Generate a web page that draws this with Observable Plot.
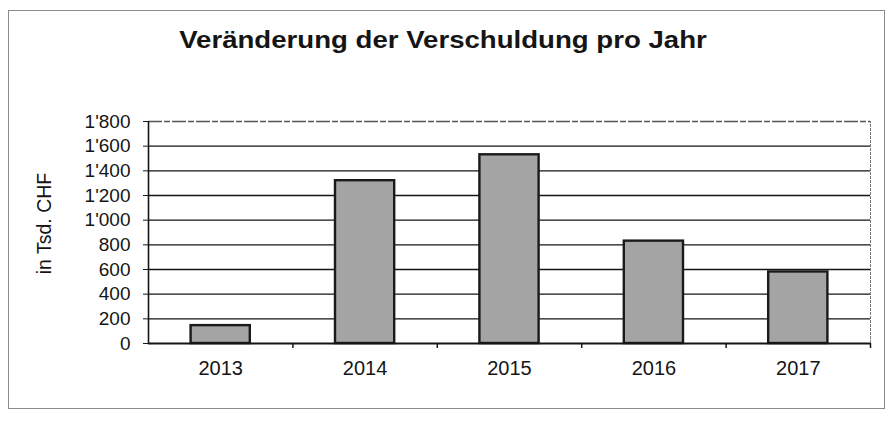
<!DOCTYPE html>
<html><head><meta charset="utf-8">
<script src="https://cdn.jsdelivr.net/npm/d3@7"></script>
<script src="https://cdn.jsdelivr.net/npm/@observablehq/plot@0.6"></script>
<style>
html,body{margin:0;padding:0;background:#fff;}
#wrap{position:relative;width:890px;height:428px;overflow:hidden;font-family:"Liberation Sans",Arial,sans-serif;}
#frame{position:absolute;left:8px;top:10px;width:877px;height:399px;border:1.5px solid #8a8a8a;box-sizing:border-box;}
#title{position:absolute;left:0;top:27px;width:890px;text-align:center;font-weight:bold;font-size:23px;color:#151515;transform:translateX(-2px) scaleX(1.2);transform-origin:445px 0;}
#chart{position:absolute;left:0;top:0;}
</style></head>
<body><div id="wrap"><div id="frame"></div><div id="title">Veränderung der Verschuldung pro Jahr</div><div id="chart"></div></div>
<script>
const years = [2013, 2014, 2015, 2016, 2017];
const values = [145, 1320, 1530, 830, 580];
const yTicks = [0, 200, 400, 600, 800, 1000, 1200, 1400, 1600, 1800];
const yLabel = "in Tsd. CHF";

const data = years.map((y, i) => ({year: y, value: values[i]}));
const boundaries = years.map(y => y + 0.5);
const fmt = d3.formatLocale({decimal: ".", thousands: "'", grouping: [3], currency: ["", ""]}).format(",");

const chart = Plot.plot({
  width: 890,
  height: 428,
  marginLeft: 148,
  marginRight: 20,
  marginTop: 121,
  marginBottom: 85,
  style: {fontFamily: "Liberation Sans, Arial, sans-serif", fontSize: "19px", color: "#151515", background: "transparent"},
  x: {type: "linear", domain: [years[0] - 0.5, years[years.length - 1] + 0.5]},
  y: {type: "linear", domain: [0, 1800]},
  marks: [
    Plot.ruleY(yTicks.filter(t => t > 0 && t < 1800), {stroke: "#151515", strokeWidth: 1.3}),
    Plot.ruleY([1800], {stroke: "#555", strokeWidth: 1.3, strokeDasharray: "14 2 6 2"}),
    Plot.ruleX([years[years.length - 1] + 0.5], {y1: 0, y2: 1800, stroke: "#777", strokeWidth: 1, strokeDasharray: "3 1"}),
    Plot.rectY(data, {x1: d => d.year - 0.205, x2: d => d.year + 0.205, y: "value", fill: "#a4a4a4", stroke: "#1a1a1a", strokeWidth: 2.4}),
    Plot.ruleY([0], {stroke: "#151515", strokeWidth: 2}),
    Plot.ruleX([years[0] - 0.5], {y1: 0, y2: 1800, stroke: "#151515", strokeWidth: 1.6}),
    Plot.axisX({ticks: boundaries, tickFormat: () => "", tickSize: 5, strokeWidth: 1.5, label: null}),
    Plot.axisY({ticks: yTicks, tickFormat: fmt, tickSize: 5, tickPadding: 13, label: null, fontSize: 19}),
    Plot.text([yLabel], {text: d => d, frameAnchor: "left", textAnchor: "middle", rotate: -90, dx: -104, dy: -9, fontSize: 19.5, fill: "#151515"}),
    Plot.axisX({ticks: years, tickFormat: d => String(d), tickSize: 0, tickPadding: 17, label: null, fontSize: 20})
  ]
});
document.getElementById("chart").appendChild(chart);
</script></body></html>
